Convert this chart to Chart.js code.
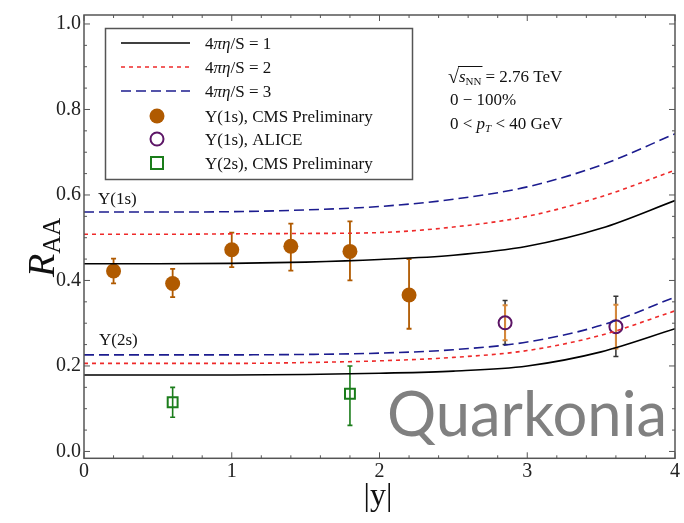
<!DOCTYPE html>
<html>
<head>
<meta charset="utf-8">
<script src="https://cdn.jsdelivr.net/npm/chart.js@4.4.1/dist/chart.umd.min.js"></script>
<style>
  html, body { margin: 0; padding: 0; background: #fff; }
  #wrap { width: 684px; height: 523px; }
</style>
</head>
<body>
<div id="wrap"><canvas id="raaChart" width="684" height="523"></canvas></div>
<script>
// theory curves (hydro, 4 pi eta/S = 1,2,3)
const curveX = [0, 0.5, 1, 1.5, 2, 2.5, 3, 3.5, 4];
const black1s = [0.439, 0.439, 0.440, 0.443, 0.449, 0.459, 0.480, 0.522, 0.587];
const red1s   = [0.508, 0.508, 0.509, 0.510, 0.512, 0.525, 0.550, 0.596, 0.658];
const blue1s  = [0.560, 0.560, 0.561, 0.565, 0.573, 0.590, 0.619, 0.670, 0.743];
const black2s = [0.179, 0.179, 0.179, 0.180, 0.183, 0.188, 0.200, 0.233, 0.287];
const red2s   = [0.206, 0.206, 0.206, 0.208, 0.212, 0.220, 0.236, 0.272, 0.329];
const blue2s  = [0.226, 0.226, 0.226, 0.227, 0.230, 0.238, 0.256, 0.295, 0.361];

// data points
const cms1X  = [0.2, 0.6, 1.0, 1.4, 1.8, 2.2];
const cms1Y  = [0.422, 0.393, 0.472, 0.480, 0.468, 0.366];
const cms1Lo = [0.393, 0.361, 0.431, 0.423, 0.400, 0.287];
const cms1Hi = [0.451, 0.427, 0.512, 0.533, 0.538, 0.450];

const aliceX  = [2.85, 3.6];
const aliceY  = [0.301, 0.292];
const aliceLo = [0.250, 0.222];
const aliceHi = [0.353, 0.363];
const aliceSysLo = [0.260, 0.241];
const aliceSysHi = [0.342, 0.343];

const cms2X  = [0.6, 1.8];
const cms2Y  = [0.115, 0.135];
const cms2Lo = [0.080, 0.061];
const cms2Hi = [0.150, 0.200];

const xTicks = [0, 1, 2, 3, 4];
const yTicks = [0.0, 0.2, 0.4, 0.6, 0.8, 1.0];

const serif = '"Liberation Serif", "DejaVu Serif", serif';
const brown = '#b05a00';
const purple = '#5c1566';
const green = '#1b7d1b';
const redC = '#ee2a2a';
const blueC = '#1c1c8f';

function pts(xs, ys) { return xs.map((x, i) => ({ x: x, y: ys[i] })); }

function lineSet(label, ys, color, dash) {
  return {
    label: label, data: pts(curveX, ys), showLine: true, borderColor: color,
    borderWidth: 1.6, borderDash: dash, pointRadius: 0, cubicInterpolationMode: 'monotone'
  };
}

// write text runs: [text, style, size, dy]
function runs(ctx, x, y, parts) {
  let cx = x;
  parts.forEach(p => {
    ctx.font = (p[1] || '') + ' ' + p[2] + 'px ' + serif;
    ctx.fillText(p[0], cx, y + (p[3] || 0));
    cx += ctx.measureText(p[0]).width;
  });
  return cx;
}

function errBars(ctx, xs_, lo, hi, color, cap, w) {
  ctx.strokeStyle = color;
  ctx.lineWidth = w;
  xs_.forEach((x, i) => {
    const px = xs.getPixelForValue(x);
    const a = ys.getPixelForValue(lo[i]);
    const b = ys.getPixelForValue(hi[i]);
    ctx.beginPath();
    ctx.moveTo(px, a); ctx.lineTo(px, b);
    ctx.moveTo(px - cap, a); ctx.lineTo(px + cap, a);
    ctx.moveTo(px - cap, b); ctx.lineTo(px + cap, b);
    ctx.stroke();
  });
}
let xs, ys;

const barsPlugin = {
  id: 'bars',
  beforeDatasetsDraw(chart) {
    const ctx = chart.ctx;
    xs = chart.scales.x; ys = chart.scales.y;
    ctx.save();
    errBars(ctx, cms1X, cms1Lo, cms1Hi, brown, 2.5, 1.8);
    errBars(ctx, aliceX, aliceLo, aliceHi, '#333', 2.5, 1.5);
    errBars(ctx, aliceX, aliceSysLo, aliceSysHi, '#d8893a', 2.5, 2);
    errBars(ctx, cms2X, cms2Lo, cms2Hi, green, 2.5, 1.6);
    ctx.restore();
  },
  afterDatasetsDraw(chart) {
    const ctx = chart.ctx;
    const a = chart.chartArea;
    ctx.save();
    // frame with inward ticks
    ctx.strokeStyle = '#555';
    ctx.lineWidth = 1.5;
    ctx.strokeRect(a.left, a.top, a.right - a.left, a.bottom - a.top);
    ctx.lineWidth = 1;
    ctx.beginPath();
    for (let v = 0; v <= 4.001; v += 0.2) {
      const px = xs.getPixelForValue(v);
      const len = Math.abs(v - Math.round(v)) < 1e-6 ? 6 : 3;
      ctx.moveTo(px, a.bottom); ctx.lineTo(px, a.bottom - len);
      ctx.moveTo(px, a.top); ctx.lineTo(px, a.top + len);
    }
    for (let v = 0; v <= 1.001; v += 0.05) {
      const py = ys.getPixelForValue(v);
      const len = Math.abs(v * 5 - Math.round(v * 5)) < 1e-6 ? 6 : 3;
      ctx.moveTo(a.left, py); ctx.lineTo(a.left + len, py);
      ctx.moveTo(a.right, py); ctx.lineTo(a.right - len, py);
    }
    ctx.stroke();

    // watermark
    ctx.fillStyle = '#808080';
    ctx.font = '58px Lato, "Open Sans", sans-serif';
    const wm = ctx.measureText('Quarkonia').width;
    ctx.font = (58 * 280 / wm).toFixed(1) + 'px Lato, "Open Sans", sans-serif';
    ctx.textBaseline = 'alphabetic';
    ctx.fillText('Quarkonia', 387, 436);

    ctx.fillStyle = '#111';
    // curve labels
    runs(ctx, 98, 204, [['\u03A5(1s)', '', 17]]);
    runs(ctx, 99, 345, [['\u03A5(2s)', '', 17]]);

    // legend box
    ctx.strokeStyle = '#555';
    ctx.lineWidth = 1.5;
    ctx.strokeRect(105.5, 28.5, 307, 151);
    const rowsY = [43, 67, 91, 116, 139, 163];
    const lines = [['#000', []], [redC, [4, 4]], [blueC, [10, 5]]];
    lines.forEach((l, i) => {
      ctx.strokeStyle = l[0];
      ctx.lineWidth = 1.6;
      ctx.setLineDash(l[1]);
      ctx.beginPath();
      ctx.moveTo(121, rowsY[i]); ctx.lineTo(190, rowsY[i]);
      ctx.stroke();
      ctx.setLineDash([]);
      runs(ctx, 205, rowsY[i] + 6, [['4', '', 17], ['\u03C0\u03B7', 'italic', 17], ['/S = ' + (i + 1), '', 17]]);
    });
    ctx.fillStyle = brown;
    ctx.beginPath(); ctx.arc(157, rowsY[3], 7.5, 0, Math.PI * 2); ctx.fill();
    ctx.strokeStyle = purple; ctx.lineWidth = 2;
    ctx.beginPath(); ctx.arc(157, rowsY[4], 6.5, 0, Math.PI * 2); ctx.stroke();
    ctx.strokeStyle = green;
    ctx.strokeRect(151, rowsY[5] - 6, 12, 12);
    ctx.fillStyle = '#111';
    runs(ctx, 205, rowsY[3] + 6, [['\u03A5(1s), CMS Preliminary', '', 17]]);
    runs(ctx, 205, rowsY[4] + 6, [['\u03A5(1s), ALICE', '', 17]]);
    runs(ctx, 205, rowsY[5] + 6, [['\u03A5(2s), CMS Preliminary', '', 17]]);

    // annotation
    let cx = runs(ctx, 448, 83, [['\u221A', '', 20]]);
    const sx = cx;
    cx = runs(ctx, cx, 82, [['s', 'italic', 17], ['NN', '', 11, 3]]);
    ctx.strokeStyle = '#111'; ctx.lineWidth = 1;
    ctx.beginPath(); ctx.moveTo(sx - 1, 66.5); ctx.lineTo(cx + 1, 66.5); ctx.stroke();
    runs(ctx, cx + 4, 82, [['= 2.76 TeV', '', 17]]);
    runs(ctx, 450, 105, [['0 \u2212 100%', '', 17]]);
    runs(ctx, 450, 129, [['0 < ', '', 17], ['p', 'italic', 17], ['T', 'italic', 11, 3], [' < 40 GeV', '', 17]]);

    // axis titles
    ctx.save();
    ctx.translate(54, 244);
    ctx.rotate(-Math.PI / 2);
    runs(ctx, -33, 0, [['R', 'italic', 38], ['AA', '', 25, 6]]);
    ctx.restore();
    ctx.textAlign = 'center';
    ctx.font = '32px ' + serif;
    ctx.fillText('|y|', 378, 505);
    ctx.restore();
  }
};

new Chart(document.getElementById('raaChart'), {
  type: 'scatter',
  data: {
    datasets: [
      lineSet('4\u03C0\u03B7/S = 1', black1s, '#000', []),
      lineSet('4\u03C0\u03B7/S = 2', red1s, redC, [4, 4]),
      lineSet('4\u03C0\u03B7/S = 3', blue1s, blueC, [10, 5]),
      lineSet('2s 1', black2s, '#000', []),
      lineSet('2s 2', red2s, redC, [4, 4]),
      lineSet('2s 3', blue2s, blueC, [10, 5]),
      { label: '\u03A5(1s), CMS Preliminary', data: pts(cms1X, cms1Y), pointRadius: 7.5,
        pointBackgroundColor: brown, pointBorderColor: brown, pointBorderWidth: 0 },
      { label: '\u03A5(1s), ALICE', data: pts(aliceX, aliceY), pointRadius: 6.5,
        pointBackgroundColor: 'rgba(0,0,0,0)', pointBorderColor: purple, pointBorderWidth: 2 },
      { label: '\u03A5(2s), CMS Preliminary', data: pts(cms2X, cms2Y), pointStyle: 'rect', pointRadius: 7,
        pointBackgroundColor: 'rgba(0,0,0,0)', pointBorderColor: green, pointBorderWidth: 2 }
    ]
  },
  options: {
    responsive: false,
    animation: false,
    events: [],
    layout: { padding: { left: 0, right: 6, top: 12.7, bottom: 0 } },
    plugins: { legend: { display: false }, tooltip: { enabled: false } },
    scales: {
      x: {
        type: 'linear', min: 0, max: 4,
        afterBuildTicks: s => { s.ticks = xTicks.map(v => ({ value: v })); },
        afterFit: s => { s.height = 64.7; },
        grid: { display: false, drawTicks: false, tickLength: 0 }, border: { display: false },
        ticks: { color: '#222', font: { family: serif, size: 20 }, padding: 1,
          callback: v => String(v) }
      },
      y: {
        type: 'linear', min: -0.016, max: 1.021,
        afterBuildTicks: s => { s.ticks = yTicks.map(v => ({ value: v })); },
        afterFit: s => { s.width = 84; },
        grid: { display: false, drawTicks: false, tickLength: 0 }, border: { display: false },
        ticks: { color: '#222', font: { family: serif, size: 20 }, padding: 3,
          callback: v => v.toFixed(1) }
      }
    }
  },
  plugins: [barsPlugin]
});
</script>
</body>
</html>
